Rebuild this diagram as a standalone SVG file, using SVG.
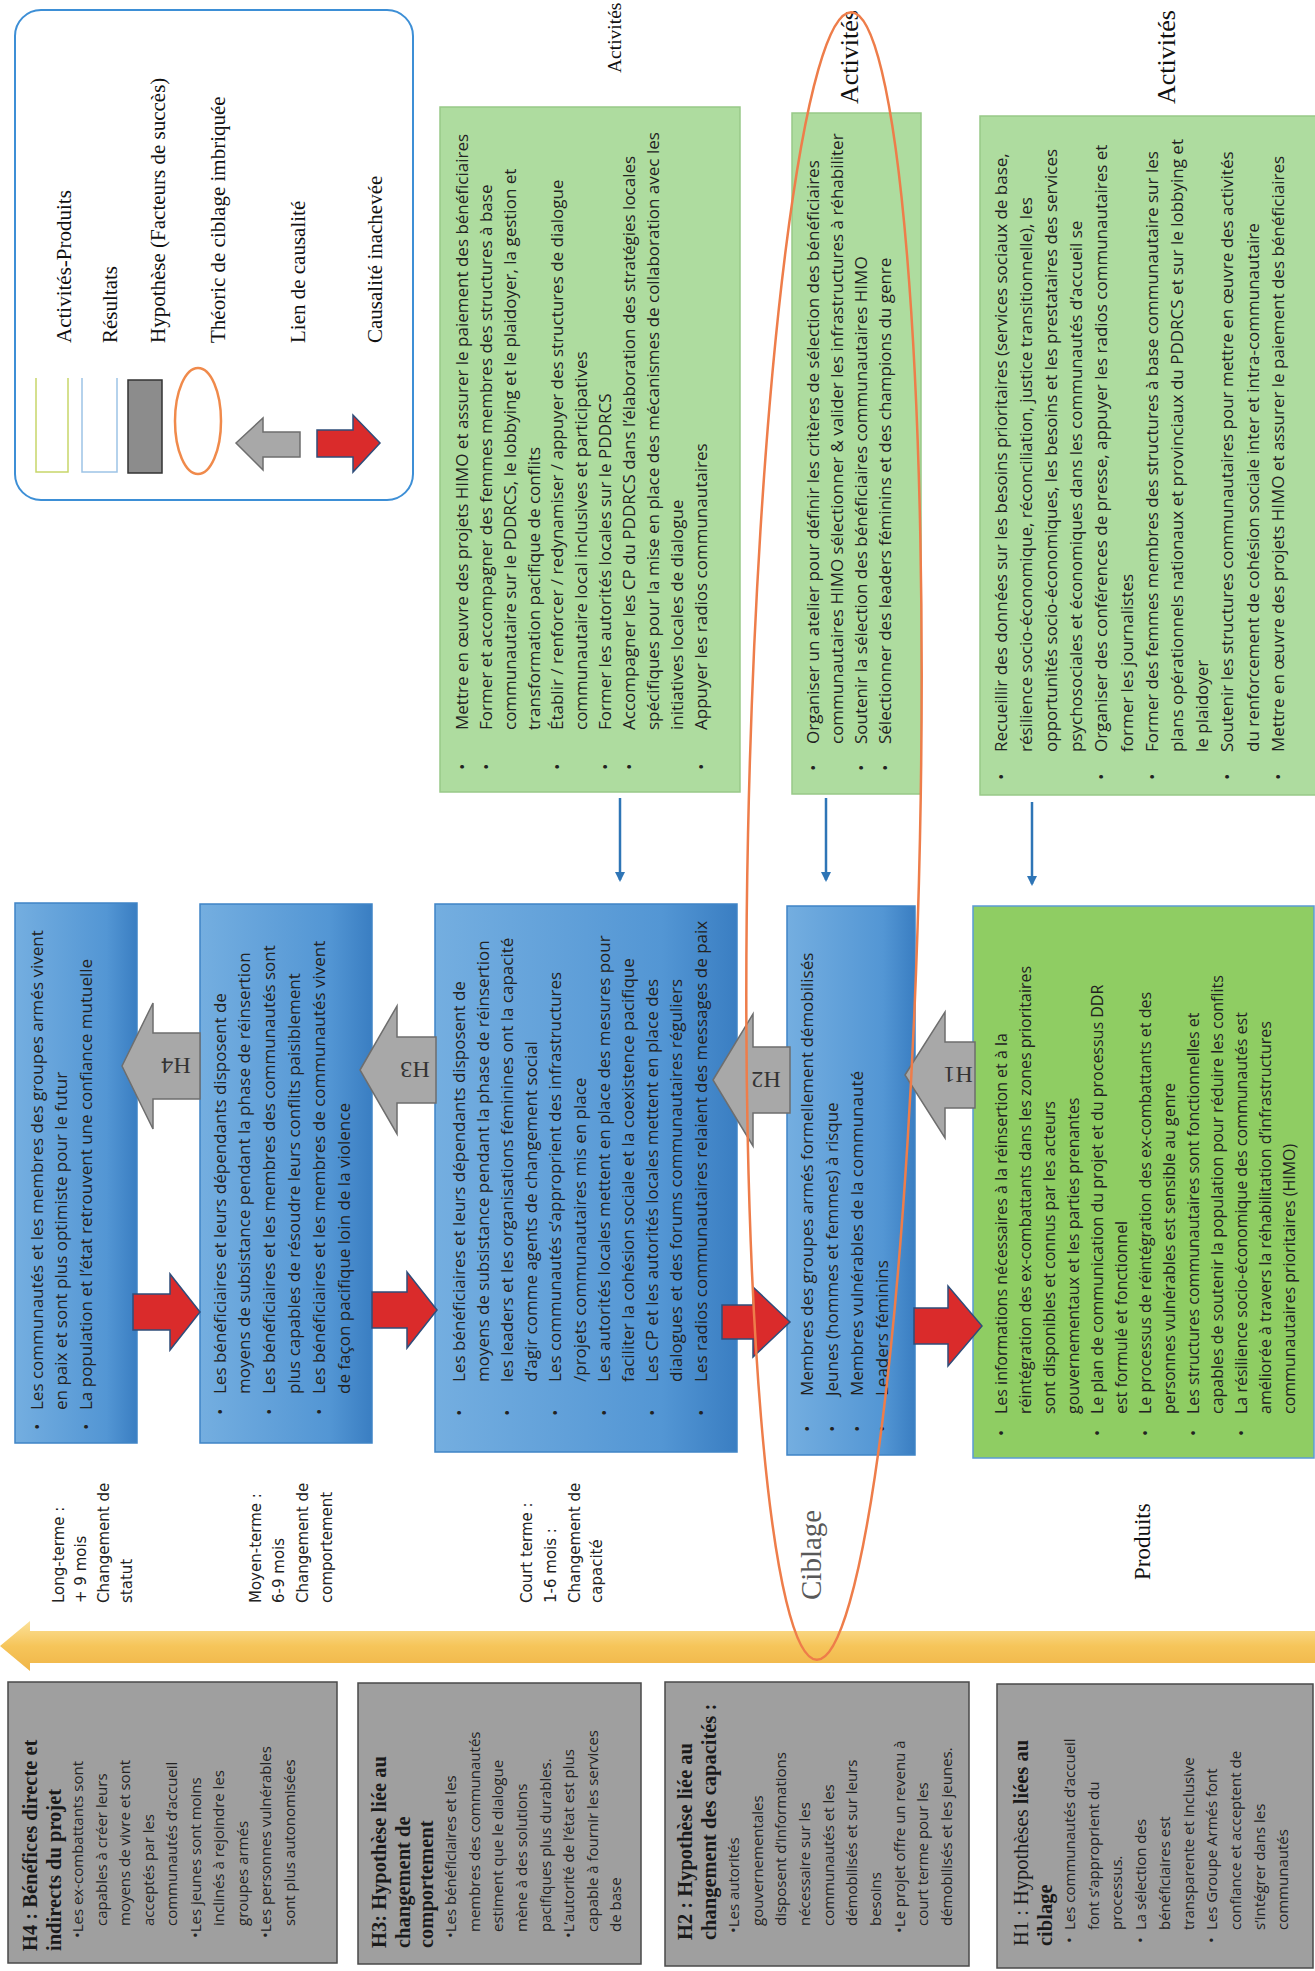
<svg xmlns="http://www.w3.org/2000/svg" width="1315" height="1971" viewBox="0 0 1315 1971">
<defs>
<style>
.s{font-family:"Open Sans","Liberation Sans",sans-serif;fill:#222;}
.a{font-size:17px;}
.b{font-size:17px;}
.e{font-size:16px;}
.g{font-size:15px;}
.hd{font-family:"Liberation Serif","Times New Roman",serif;font-weight:bold;font-size:20.5px;fill:#1a1a1a;}
.lg{font-family:"Liberation Serif","Times New Roman",serif;font-size:21px;fill:#111;}
.hdr{font-family:"Liberation Serif","Times New Roman",serif;font-size:26px;fill:#111;}
.tm{font-family:"DejaVu Sans","Liberation Sans",sans-serif;font-size:15px;fill:#222;}
.hl{font-family:"Liberation Serif","Times New Roman",serif;font-size:24px;fill:#333;text-anchor:middle;}
.act{fill:#aedc9f;stroke:#98c988;stroke-width:1.5;}
.blue{fill:url(#gBlue);stroke:#3f84c6;stroke-width:1.5;}
.hyp{fill:#9f9f9f;stroke:#4a4a4a;stroke-width:1.5;}
.garr{fill:#a8a8a8;stroke:#6e6e6e;stroke-width:1.5;}
.rarr{fill:#da2b2b;stroke:#2f4d7a;stroke-width:1.5;}
.down{stroke:#2e75b6;stroke-width:2.5;fill:none;}
</style>
<linearGradient id="gBlue" x1="0" y1="0" x2="1" y2="0">
<stop offset="0" stop-color="#74aee0"/>
<stop offset="0.75" stop-color="#5396d4"/>
<stop offset="1" stop-color="#3a7ec2"/>
</linearGradient>
<linearGradient id="gYel" x1="0" y1="0" x2="0" y2="1">
<stop offset="0" stop-color="#fbe19a"/>
<stop offset="0.5" stop-color="#f6c55a"/>
<stop offset="1" stop-color="#f0b548"/>
</linearGradient>
<marker id="ah" markerWidth="10" markerHeight="10" refX="8" refY="5" orient="auto" markerUnits="userSpaceOnUse">
<path d="M0,0 L10,5 L0,10 z" fill="#2e75b6"/>
</marker>
</defs>
<rect width="1315" height="1971" fill="#fff"/>

<g id="legend">
<rect x="15" y="10" width="398" height="490" rx="26" fill="#fff" stroke="#3d8fd6" stroke-width="2"/>
<path d="M36 378 V472 H68 V378" fill="none" stroke="#c8d66a" stroke-width="1.5"/>
<path d="M82 378 V472 H117 V378" fill="none" stroke="#9dc3e6" stroke-width="1.5"/>
<rect x="128" y="380" width="34" height="93" fill="#8c8c8c" stroke="#333" stroke-width="1.5"/>
<ellipse cx="198" cy="421" rx="23" ry="53" fill="none" stroke="#f08a4b" stroke-width="2.5"/>
<polygon points="236,443 263,418 263,432 300,432 300,457 263,457 263,470" class="garr"/>
<polygon points="317,430 353,430 353,415 380,443 353,472 353,457 317,457" class="rarr"/>
<text class="lg" transform="translate(71 343) rotate(-90)">Activités-Produits</text>
<text class="lg" transform="translate(117 343) rotate(-90)">Résultats</text>
<text class="lg" transform="translate(165 343) rotate(-90)">Hypothèse (Facteurs de succès)</text>
<text class="lg" transform="translate(225 343) rotate(-90)">Théoric de ciblage imbriquée</text>
<text class="lg" transform="translate(305 343) rotate(-90)">Lien de causalité</text>
<text class="lg" transform="translate(382 343) rotate(-90)">Causalité inachevée</text>
</g>

<g id="headers">
<text class="hdr" transform="translate(621 73) rotate(-90)" style="font-size:19.5px">Activités</text>
<text class="hdr" transform="translate(858 104) rotate(-90)">Activités</text>
<text class="hdr" transform="translate(1175 104) rotate(-90)">Activités</text>
</g>

<g id="activites-1">
<rect x="440" y="107" width="300" height="685" class="act"/>
<g class="s a">
<text transform="translate(468 770) rotate(-90)">•</text>
<text transform="translate(468 730) rotate(-90)">Mettre en œuvre des projets HIMO et assurer le paiement des bénéficiaires</text>
<text transform="translate(492 770) rotate(-90)">•</text>
<text transform="translate(492 730) rotate(-90)">Former et accompagner des femmes membres des structures à base</text>
<text transform="translate(516 730) rotate(-90)">communautaire sur le PDDRCS, le lobbying et le plaidoyer, la gestion et</text>
<text transform="translate(540 730) rotate(-90)">transformation pacifique de conflits</text>
<text transform="translate(563 770) rotate(-90)">•</text>
<text transform="translate(563 730) rotate(-90)">Établir / renforcer / redynamiser  / appuyer des structures de dialogue</text>
<text transform="translate(587 730) rotate(-90)">communautaire local inclusives et participatives</text>
<text transform="translate(611 770) rotate(-90)">•</text>
<text transform="translate(611 730) rotate(-90)">Former les autorités locales sur le PDDRCS</text>
<text transform="translate(635 770) rotate(-90)">•</text>
<text transform="translate(635 730) rotate(-90)">Accompagner les CP du PDDRCS dans l’élaboration des stratégies locales</text>
<text transform="translate(659 730) rotate(-90)">spécifiques pour la mise en place des mécanismes de collaboration avec les</text>
<text transform="translate(683 730) rotate(-90)">initiatives locales de dialogue</text>
<text transform="translate(707 770) rotate(-90)">•</text>
<text transform="translate(707 730) rotate(-90)">Appuyer les radios communautaires</text>
</g>
</g>

<g id="activites-2">
<rect x="792" y="113" width="129" height="681" class="act"/>
<g class="s a">
<text transform="translate(819 771) rotate(-90)">•</text>
<text transform="translate(819 744) rotate(-90)">Organiser un atelier pour définir les critères de sélection des bénéficiaires</text>
<text transform="translate(843 744) rotate(-90)">communautaires HIMO sélectionner &amp; valider les infrastructures à réhabiliter</text>
<text transform="translate(867 771) rotate(-90)">•</text>
<text transform="translate(867 744) rotate(-90)">Soutenir la sélection des bénéficiaires communautaires HIMO</text>
<text transform="translate(891 771) rotate(-90)">•</text>
<text transform="translate(891 744) rotate(-90)">Sélectionner des leaders féminins et des champions du genre</text>
</g>
</g>

<g id="activites-3">
<rect x="980" y="116" width="336" height="679" class="act"/>
<g class="s a">
<text transform="translate(1006.5 780) rotate(-90)">•</text>
<text transform="translate(1006.5 752) rotate(-90)">Recueillir des données sur les besoins prioritaires (services sociaux de base,</text>
<text transform="translate(1031.7 752) rotate(-90)">résilience socio-économique, réconciliation, justice transitionnelle), les</text>
<text transform="translate(1056.9 752) rotate(-90)">opportunités socio-économiques, les besoins et les prestataires des services</text>
<text transform="translate(1082.1 752) rotate(-90)">psychosociales et économiques dans les communautés d’accueil se</text>
<text transform="translate(1107.3 780) rotate(-90)">•</text>
<text transform="translate(1107.3 752) rotate(-90)">Organiser des conférences de presse, appuyer les radios communautaires et</text>
<text transform="translate(1132.5 752) rotate(-90)">former les journalistes</text>
<text transform="translate(1157.7 780) rotate(-90)">•</text>
<text transform="translate(1157.7 752) rotate(-90)">Former des femmes membres des structures à base communautaire sur les</text>
<text transform="translate(1182.9 752) rotate(-90)">plans opérationnels nationaux et provinciaux du PDDRCS et sur le lobbying et</text>
<text transform="translate(1208.1 752) rotate(-90)">le plaidoyer</text>
<text transform="translate(1233.3 780) rotate(-90)">•</text>
<text transform="translate(1233.3 752) rotate(-90)">Soutenir les structures communautaires pour mettre en œuvre des activités</text>
<text transform="translate(1258.5 752) rotate(-90)">du renforcement de cohésion sociale inter et intra-communautaire</text>
<text transform="translate(1283.7 780) rotate(-90)">•</text>
<text transform="translate(1283.7 752) rotate(-90)">Mettre en œuvre des projets HIMO et assurer le paiement des bénéficiaires</text>
</g>
</g>

<g id="resultat-long-terme">
<rect x="15" y="903" width="122" height="540" class="blue"/>
<g class="s b">
<text transform="translate(43 1430) rotate(-90)">•</text>
<text transform="translate(43 1410) rotate(-90)">Les communautés et les membres des groupes armés vivent</text>
<text transform="translate(67 1410) rotate(-90)">en paix et sont plus optimiste pour le futur</text>
<text transform="translate(91.5 1430) rotate(-90)">•</text>
<text transform="translate(91.5 1410) rotate(-90)">La population et l’état retrouvent une confiance mutuelle</text>
</g>
</g>

<g id="resultat-moyen-terme">
<rect x="200" y="904" width="172" height="539" class="blue"/>
<g class="s b">
<text transform="translate(225.5 1415) rotate(-90)">•</text>
<text transform="translate(225.5 1394) rotate(-90)">Les bénéficiaires et leurs dépendants disposent de</text>
<text transform="translate(250.3 1394) rotate(-90)">moyens de subsistance pendant la phase de réinsertion</text>
<text transform="translate(275.1 1415) rotate(-90)">•</text>
<text transform="translate(275.1 1394) rotate(-90)">Les bénéficiaires et les membres des communautés sont</text>
<text transform="translate(299.9 1394) rotate(-90)">plus capables de résoudre leurs conflits paisiblement</text>
<text transform="translate(324.7 1415) rotate(-90)">•</text>
<text transform="translate(324.7 1394) rotate(-90)">Les bénéficiaires et les membres de communautés vivent</text>
<text transform="translate(349.5 1394) rotate(-90)">de façon pacifique loin de la violence</text>
</g>
</g>

<g id="resultat-court-terme">
<rect x="435" y="904" width="302" height="548" class="blue"/>
<g class="s b">
<text transform="translate(464.5 1416) rotate(-90)">•</text>
<text transform="translate(464.5 1382) rotate(-90)">Les bénéficiaires et leurs dépendants disposent de</text>
<text transform="translate(488.7 1382) rotate(-90)">moyens de subsistance pendant la phase de réinsertion</text>
<text transform="translate(512.9 1416) rotate(-90)">•</text>
<text transform="translate(512.9 1382) rotate(-90)">les leaders et les organisations féminines ont la capacité</text>
<text transform="translate(537.1 1382) rotate(-90)">d’agir comme agents de changement social</text>
<text transform="translate(561.3 1416) rotate(-90)">•</text>
<text transform="translate(561.3 1382) rotate(-90)">Les communautés s’approprient des infrastructures</text>
<text transform="translate(585.5 1382) rotate(-90)">/projets communautaires mis en place</text>
<text transform="translate(609.7 1416) rotate(-90)">•</text>
<text transform="translate(609.7 1382) rotate(-90)">Les autorités locales mettent en place des mesures pour</text>
<text transform="translate(633.9 1382) rotate(-90)">faciliter la cohésion sociale et la coexistence pacifique</text>
<text transform="translate(658.1 1416) rotate(-90)">•</text>
<text transform="translate(658.1 1382) rotate(-90)">Les CP et les autorités locales mettent en place des</text>
<text transform="translate(682.3 1382) rotate(-90)">dialogues et des forums communautaires réguliers</text>
<text transform="translate(706.5 1416) rotate(-90)">•</text>
<text transform="translate(706.5 1382) rotate(-90)">Les radios communautaires relaient des messages de paix</text>
</g>
</g>

<g id="ciblage-box">
<rect x="787" y="906" width="128" height="549" class="blue"/>
<g class="s b">
<text transform="translate(812.5 1432) rotate(-90)">•</text>
<text transform="translate(812.5 1396) rotate(-90)">Membres des groupes armés formellement démobilisés</text>
<text transform="translate(837.5 1432) rotate(-90)">•</text>
<text transform="translate(837.5 1396) rotate(-90)">Jeunes (hommes et femmes) à risque</text>
<text transform="translate(862.5 1432) rotate(-90)">•</text>
<text transform="translate(862.5 1396) rotate(-90)">Membres vulnérables de la communauté</text>
<text transform="translate(887.5 1432) rotate(-90)">•</text>
<text transform="translate(887.5 1396) rotate(-90)">Leaders féminins</text>
</g>
</g>

<g id="produits-box">
<rect x="973" y="906" width="341" height="552" fill="#8fcd63" stroke="#5b9bd5" stroke-width="1.5"/>
<g class="s e">
<text transform="translate(1006.5 1436) rotate(-90)">•</text>
<text transform="translate(1006.5 1414) rotate(-90)">Les informations nécessaires à la réinsertion et à la</text>
<text transform="translate(1030.5 1414) rotate(-90)">réintégration des ex-combattants dans les zones prioritaires</text>
<text transform="translate(1054.5 1414) rotate(-90)">sont disponibles et connus par les acteurs</text>
<text transform="translate(1078.5 1414) rotate(-90)">gouvernementaux et les parties prenantes</text>
<text transform="translate(1102.5 1436) rotate(-90)">•</text>
<text transform="translate(1102.5 1414) rotate(-90)">Le plan de communication du projet et du processus DDR</text>
<text transform="translate(1126.5 1414) rotate(-90)">est formulé et fonctionnel</text>
<text transform="translate(1150.5 1436) rotate(-90)">•</text>
<text transform="translate(1150.5 1414) rotate(-90)">Le processus de réintégration des ex-combattants et des</text>
<text transform="translate(1174.5 1414) rotate(-90)">personnes vulnérables est sensible au genre</text>
<text transform="translate(1198.5 1436) rotate(-90)">•</text>
<text transform="translate(1198.5 1414) rotate(-90)">Les structures communautaires sont fonctionnelles et</text>
<text transform="translate(1222.5 1414) rotate(-90)">capables de soutenir la population pour réduire les conflits</text>
<text transform="translate(1246.5 1436) rotate(-90)">•</text>
<text transform="translate(1246.5 1414) rotate(-90)">La résilience socio-économique des communautés est</text>
<text transform="translate(1270.5 1414) rotate(-90)">améliorée à travers la réhabilitation d’infrastructures</text>
<text transform="translate(1294.5 1414) rotate(-90)">communautaires prioritaires (HIMO)</text>
</g>
</g>

<g id="labels">
<g class="tm">
<text transform="translate(64 1603) rotate(-90)">Long-terme :</text>
<text transform="translate(86 1603) rotate(-90)">+ 9 mois</text>
<text transform="translate(109 1603) rotate(-90)">Changement de</text>
<text transform="translate(132 1603) rotate(-90)">statut</text>
<text transform="translate(261 1603) rotate(-90)">Moyen-terme :</text>
<text transform="translate(284 1603) rotate(-90)">6-9 mois</text>
<text transform="translate(308 1603) rotate(-90)">Changement de</text>
<text transform="translate(332 1603) rotate(-90)">comportement</text>
<text transform="translate(532 1603) rotate(-90)">Court terme :</text>
<text transform="translate(556 1603) rotate(-90)">1-6 mois :</text>
<text transform="translate(580 1603) rotate(-90)">Changement de</text>
<text transform="translate(602 1603) rotate(-90)">capacité</text>
</g>
<text transform="translate(821 1600) rotate(-90)" font-family="Liberation Serif, serif" font-size="29" fill="#595959">Ciblage</text>
<text transform="translate(1150 1580) rotate(-90)" font-family="Liberation Serif, serif" font-size="23" fill="#111">Produits</text>
</g>

<g id="connectors">
<line x1="620" y1="798" x2="620" y2="880" class="down" marker-end="url(#ah)"/>
<line x1="826" y1="798" x2="826" y2="880" class="down" marker-end="url(#ah)"/>
<line x1="1032" y1="802" x2="1032" y2="884" class="down" marker-end="url(#ah)"/>
<polygon class="garr" points="122,1066 153,1003 153,1033 200,1033 200,1099 153,1099 153,1129"/>
<polygon class="garr" points="360,1070 397,1006 397,1037 436,1037 436,1103 397,1103 397,1134"/>
<polygon class="garr" points="713,1080 753,1014 753,1047 790,1047 790,1113 753,1113 753,1146"/>
<polygon class="garr" points="905,1075 945,1012 945,1042 975,1042 975,1108 945,1108 945,1138"/>
<text class="hl" transform="translate(176 1066) rotate(180)" y="8">H4</text>
<text class="hl" transform="translate(415 1070) rotate(180)" y="8">H3</text>
<text class="hl" transform="translate(766 1080) rotate(180)" y="8">H2</text>
<text class="hl" transform="translate(958 1075) rotate(180)" y="8">H1</text>
<polygon class="rarr" points="133,1294 170,1294 170,1274 200,1312 170,1350 170,1330 133,1330"/>
<polygon class="rarr" points="372,1292 407,1292 407,1272 437,1310 407,1348 407,1328 372,1328"/>
<polygon class="rarr" points="722,1305 753,1305 753,1287 790,1322 753,1357 753,1339 722,1339"/>
<polygon class="rarr" points="914,1308 948,1308 948,1286 982,1326 948,1366 948,1344 914,1344"/>
<polygon points="0,1646 30,1621 30,1631 1315,1631 1315,1663 30,1663 30,1671" fill="url(#gYel)"/>
</g>

<g id="hyp-h4">
<rect x="8" y="1682" width="329" height="281" class="hyp"/>
<text class="hd" transform="translate(37 1951) rotate(-90)">H4 : Bénéfices directe et</text>
<text class="hd" transform="translate(60.5 1951) rotate(-90)">indirects du projet</text>
<g class="s g">
<text transform="translate(83 1938) rotate(-90)">•Les ex-combattants sont</text>
<text transform="translate(106.5 1926) rotate(-90)">capables à créer leurs</text>
<text transform="translate(130 1926) rotate(-90)">moyens de vivre et sont</text>
<text transform="translate(153.5 1926) rotate(-90)">acceptés par les</text>
<text transform="translate(177 1926) rotate(-90)">communautés d’accueil</text>
<text transform="translate(200.5 1938) rotate(-90)">•Les jeunes sont moins</text>
<text transform="translate(224 1926) rotate(-90)">inclinés à rejoindre les</text>
<text transform="translate(247.5 1926) rotate(-90)">groupes armés</text>
<text transform="translate(271 1938) rotate(-90)">•Les personnes vulnérables</text>
<text transform="translate(294.5 1926) rotate(-90)">sont plus autonomisées</text>
</g>
</g>

<g id="hyp-h3">
<rect x="358" y="1683" width="283" height="281" class="hyp"/>
<text class="hd" transform="translate(386 1948) rotate(-90)">H3: Hypothèse liée au</text>
<text class="hd" transform="translate(409.6 1948) rotate(-90)">changement de</text>
<text class="hd" transform="translate(433 1948) rotate(-90)">comportement</text>
<g class="s g">
<text transform="translate(456 1938) rotate(-90)">•Les bénéficiaires et les</text>
<text transform="translate(479.5 1932) rotate(-90)">membres des communautés</text>
<text transform="translate(503 1932) rotate(-90)">estiment que le dialogue</text>
<text transform="translate(527 1932) rotate(-90)">mène à des solutions</text>
<text transform="translate(550.5 1932) rotate(-90)">pacifiques plus durables.</text>
<text transform="translate(574 1938) rotate(-90)">•L’autorité de l’état est plus</text>
<text transform="translate(598 1932) rotate(-90)">capable à fournir les services</text>
<text transform="translate(621 1932) rotate(-90)">de base</text>
</g>
</g>

<g id="hyp-h2">
<rect x="665" y="1682" width="304" height="284" class="hyp"/>
<text class="hd" transform="translate(692 1940) rotate(-90)">H2 : Hypothèse liée au</text>
<text class="hd" transform="translate(716 1940) rotate(-90)">changement des capacités :</text>
<g class="s g">
<text transform="translate(738.5 1933) rotate(-90)">•Les autorités</text>
<text transform="translate(762.5 1926) rotate(-90)">gouvernementales</text>
<text transform="translate(786 1926) rotate(-90)">disposent d’informations</text>
<text transform="translate(810 1926) rotate(-90)">nécessaire sur les</text>
<text transform="translate(833.5 1926) rotate(-90)">communautés et les</text>
<text transform="translate(857 1926) rotate(-90)">démobilisés et sur leurs</text>
<text transform="translate(881 1926) rotate(-90)">besoins</text>
<text transform="translate(904.5 1933) rotate(-90)">•Le projet offre un revenu à</text>
<text transform="translate(928 1926) rotate(-90)">court terme pour les</text>
<text transform="translate(952 1926) rotate(-90)">démobilisés et les jeunes.</text>
</g>
</g>

<g id="hyp-h1">
<rect x="997" y="1684" width="316" height="284" class="hyp"/>
<text class="hd" transform="translate(1028 1946) rotate(-90)"><tspan font-weight="normal">H1 : Hypothèses </tspan>liées au</text>
<text class="hd" transform="translate(1052 1946) rotate(-90)">ciblage</text>
<g class="s g">
<text transform="translate(1074.5 1943) rotate(-90)">•</text>
<text transform="translate(1074.5 1930) rotate(-90)">Les communautés d’accueil</text>
<text transform="translate(1098.5 1930) rotate(-90)">font s’approprient du</text>
<text transform="translate(1122 1930) rotate(-90)">processus.</text>
<text transform="translate(1146 1943) rotate(-90)">•</text>
<text transform="translate(1146 1930) rotate(-90)">La sélection des</text>
<text transform="translate(1170 1930) rotate(-90)">bénéficiaires est</text>
<text transform="translate(1193.5 1930) rotate(-90)">transparente et inclusive</text>
<text transform="translate(1217 1943) rotate(-90)">•</text>
<text transform="translate(1217 1930) rotate(-90)">Les Groupe Armés font</text>
<text transform="translate(1241 1930) rotate(-90)">confiance et acceptent de</text>
<text transform="translate(1264.5 1930) rotate(-90)">s’intégrer dans les</text>
<text transform="translate(1288 1930) rotate(-90)">communautés</text>
</g>
</g>

<g id="ciblage-ellipse">
<ellipse cx="834" cy="836" rx="86" ry="824" transform="rotate(1.2 834 836)" fill="none" stroke="#ee7d4a" stroke-width="2.5"/>
</g>
</svg>
